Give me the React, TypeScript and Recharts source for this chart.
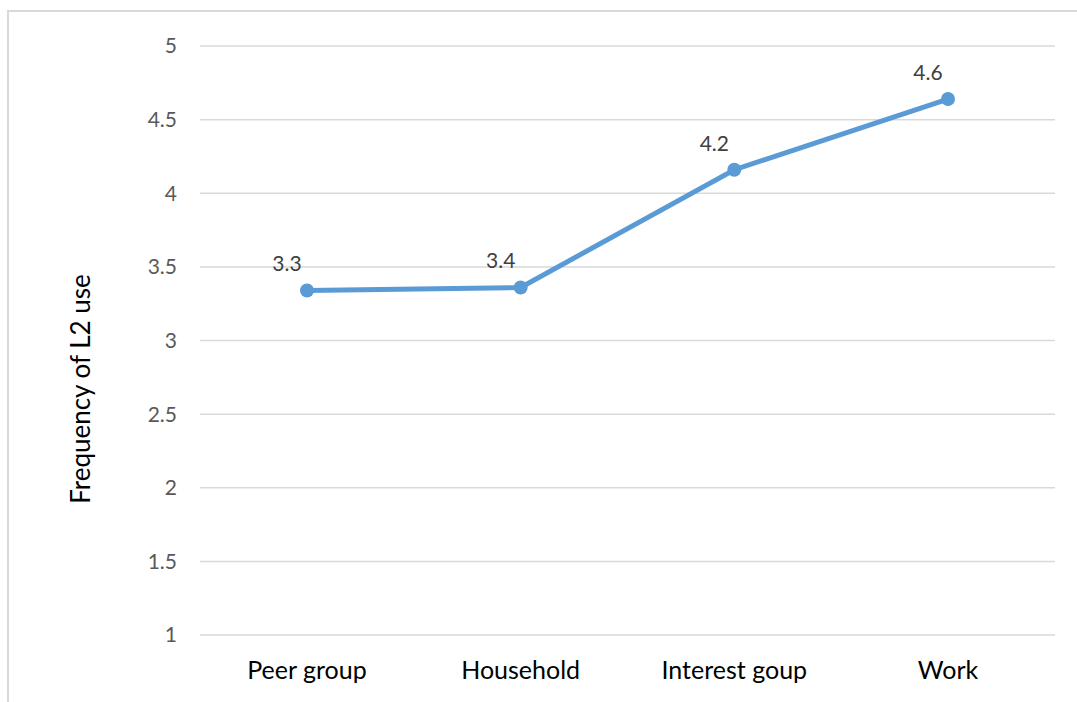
import { LineChart, Line, XAxis, YAxis, CartesianGrid, LabelList } from "recharts";

const categories = ["Peer group", "Household", "Interest goup", "Work"];
const frequency = [3.34, 3.36, 4.16, 4.64];
const yTicks = [1, 1.5, 2, 2.5, 3, 3.5, 4, 4.5, 5];

const chartData = categories.map((name, i) => ({ name, value: frequency[i] }));

const FONT = "Lato, 'Liberation Sans', sans-serif";
const BLUE = "#5B9BD5";

// label a bit left of the point, like the original chart
const ValueLabel = (props: any) => {
  const { x, y, value } = props;
  return (
    <text
      x={x - 20}
      y={y - 19}
      textAnchor="middle"
      fontFamily={FONT}
      fontSize={21}
      fill="#404040"
    >
      {Number(value).toFixed(1)}
    </text>
  );
};

export default function App() {
  return (
    <div style={{ position: "fixed", left: 0, top: 0, width: 1077, height: 702, overflow: "hidden", background: "#fff" }}>
      <div
        style={{
          position: "absolute",
          left: 7,
          top: 10,
          width: 1100,
          height: 720,
          borderLeft: "2px solid #d9d9d9",
          borderTop: "2px solid #d9d9d9",
        }}
      />
      <div style={{ position: "absolute", left: 0, top: 0 }}>
        <LineChart
          width={1077}
          height={702}
          data={chartData}
          margin={{ top: 46, right: 22, left: 140, bottom: 37 }}
        >
          <CartesianGrid vertical={false} stroke="#d9d9d9" strokeWidth={1.5} />
          <XAxis
            dataKey="name"
            height={30}
            padding={{ left: 107, right: 107 }}
            axisLine={false}
            tickLine={false}
            tickSize={0}
            tickMargin={26}
            tick={{ fill: "#000", fontSize: 25, fontFamily: FONT }}
          />
          <YAxis
            domain={[1, 5]}
            ticks={yTicks}
            width={60}
            axisLine={false}
            tickLine={false}
            tickSize={0}
            tickMargin={23}
            tick={{ fill: "#595959", fontSize: 21, fontFamily: FONT }}
            label={() => (
              <text
                x={80}
                y={389}
                transform="rotate(-90 80 389)"
                textAnchor="middle"
                dominantBaseline="central"
                fontFamily={FONT}
                fontSize={26}
                fill="#000"
              >
                Frequency of L2 use
              </text>
            )}
          />
          <Line
            type="linear"
            dataKey="value"
            stroke={BLUE}
            strokeWidth={5}
            dot={{ r: 7, fill: BLUE, stroke: BLUE, strokeWidth: 0 }}
            isAnimationActive={false}
          >
            <LabelList dataKey="value" content={<ValueLabel />} />
          </Line>
        </LineChart>
      </div>
    </div>
  );
}
